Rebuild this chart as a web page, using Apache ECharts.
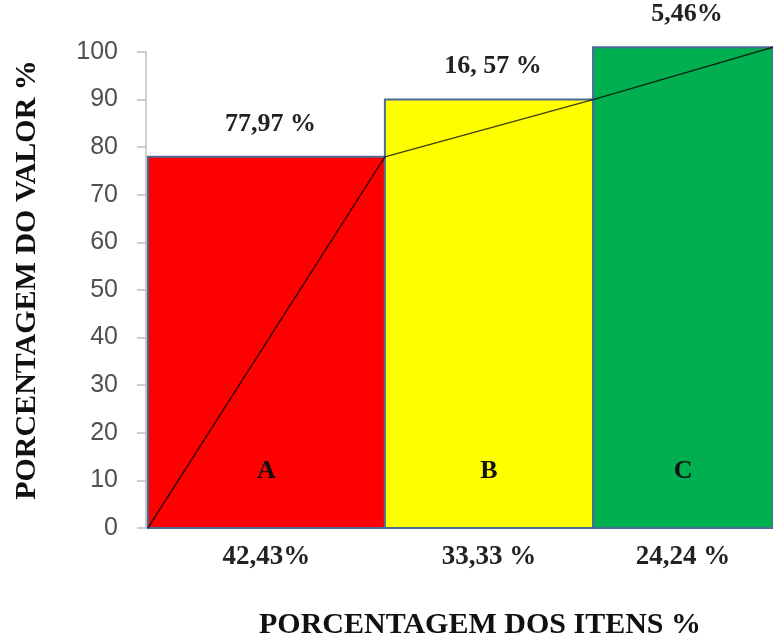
<!DOCTYPE html>
<html>
<head>
<meta charset="utf-8">
<script src="https://cdn.jsdelivr.net/npm/echarts@6/dist/echarts.min.js"></script>
<style>html,body{margin:0;padding:0;background:#fff}#c{width:773px;height:639px}</style>
</head>
<body>
<div id="c"></div>
<script>
const categories = ['A', 'B', 'C'];
const itemLabels = ['42,43%', '33,33 %', '24,24 %'];
const valueLabels = ['77,97 %', '16, 57 %', '5,46%'];
const barStart = [0.3, 38.1, 71.3];
const barEnd = [38.1, 71.3, 100];
const barHeight = [77.97, 90, 101];
const curveX = [0.3, 38.1, 71.3, 100];
const curveY = [0, 77.97, 90, 101];
const yTicks = [0, 10, 20, 30, 40, 50, 60, 70, 80, 90, 100];
const barColors = ['#FF0000', '#FFFF00', '#00B050'];

const chart = echarts.init(document.getElementById('c'));
const serif = '"Liberation Serif", "Times New Roman", serif';

chart.setOption({
  animation: false,
  backgroundColor: '#fff',
  grid: { left: 146, right: 0, top: 52, bottom: 111 },
  xAxis: { type: 'value', min: 0, max: 100, show: false },
  yAxis: {
    type: 'value', min: yTicks[0], max: yTicks[yTicks.length - 1], interval: 10,
    axisLine: { show: true, lineStyle: { color: '#BFBFBF', width: 1.5 } },
    axisTick: { show: true, length: 9, lineStyle: { color: '#BFBFBF', width: 1.5 } },
    splitLine: { show: false },
    axisLabel: { color: '#505050', fontSize: 25, fontFamily: '"Liberation Sans", Arial, sans-serif', margin: 28 }
  },
  graphic: [
    { type: 'text', x: 480, y: 625, style: { text: 'PORCENTAGEM DOS ITENS %', x: 0, y: 0, textAlign: 'center', textVerticalAlign: 'middle', font: 'bold 30px ' + serif, fill: '#111' } },
    { type: 'text', x: 27, y: 280, rotation: Math.PI / 2, style: { text: 'PORCENTAGEM DO VALOR %', x: 0, y: 0, textAlign: 'center', textVerticalAlign: 'middle', font: 'bold 30px ' + serif, fill: '#111' } }
  ],
  series: [
    {
      type: 'custom',
      clip: false,
      z: 2,
      data: categories.map((c, i) => [barStart[i], barEnd[i], barHeight[i]]),
      renderItem: function (params, api) {
        const i = params.dataIndex;
        const p0 = api.coord([api.value(0), 0]);
        const p1 = api.coord([api.value(1), api.value(2)]);
        const cx = (p0[0] + p1[0]) / 2;
        const letterY = api.coord([0, 12])[1];
        return {
          type: 'group',
          children: [
            { type: 'rect', shape: { x: p0[0], y: p1[1], width: p1[0] - p0[0], height: p0[1] - p1[1] },
              style: { fill: barColors[i], stroke: '#4A6A98', lineWidth: 2 } },
            { type: 'text', style: { text: valueLabels[i], x: cx + 4, y: p1[1] - 33, textAlign: 'center', textVerticalAlign: 'middle', font: 'bold 26px ' + serif, fill: '#222' } },
            { type: 'text', style: { text: categories[i], x: cx, y: letterY, textAlign: 'center', textVerticalAlign: 'middle', font: 'bold 26px ' + serif, fill: '#111' } },
            { type: 'text', style: { text: itemLabels[i], x: cx, y: p0[1] + 29, textAlign: 'center', textVerticalAlign: 'middle', font: 'bold 27px ' + serif, fill: '#222' } }
          ]
        };
      }
    },
    {
      type: 'line',
      clip: false,
      z: 5,
      symbol: 'none',
      data: curveX.map((x, i) => [x, curveY[i]]),
      lineStyle: { color: 'rgba(0,0,0,0.75)', width: 1.5 }
    }
  ]
});
</script>
</body>
</html>
